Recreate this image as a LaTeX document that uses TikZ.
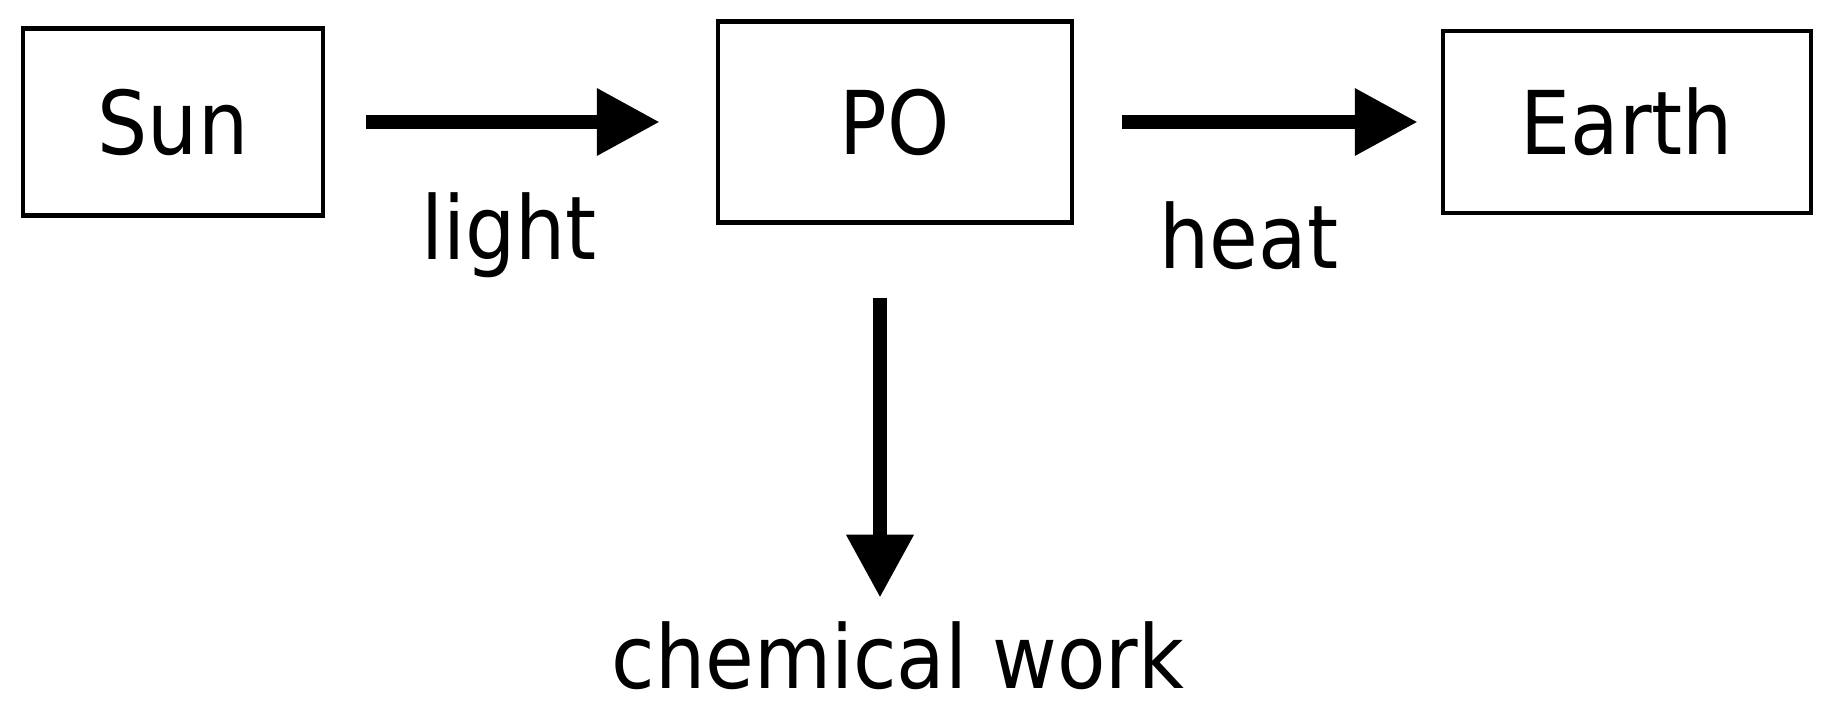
\documentclass[tikz,border=0pt]{standalone}
\usepackage{fontspec}
\setmainfont{DejaVu Sans Condensed}
\usepackage{tikz}
\usetikzlibrary{arrows.meta,positioning}
\tikzstyle{box} = [rectangle, draw, line width=2.2pt, inner sep=0pt]
\tikzstyle{flow} = [draw, line width=7pt,
    -{Triangle[length=31pt,width=34pt,line width=0pt]}]
\tikzstyle{tag} = [inner sep=0pt, anchor=base]

\begin{document}
\begin{tikzpicture}[x=0.5pt, y=-0.5pt]
\tikzstyle{every node}=[font=\fontsize{44}{48}\selectfont]
    \useasboundingbox (0,0) rectangle (1833,713);
    % boxes
    \node [box, minimum width=150pt, minimum height=93.5pt] (sun) at (173,122) {Sun};
    \node [box, minimum width=177pt, minimum height=100.5pt, right of=sun, node distance=361pt] (po) {PO};
    \node [box, minimum width=184pt, minimum height=91pt, right of=po, node distance=366pt] (earth) {Earth};
    % labels
    \node [tag] (light) at (509,259) {light};
    \node [tag] (heat) at (1249,268) {heat};
    \node [tag] (work) at (898,688) {chemical work};
    % arrows
    \coordinate (drop) at (880,0);
    \path [flow, shorten <=36.5pt, shorten >=12pt] (po.south -| drop) -- (work.north -| drop);
    \path [flow, shorten <=20.5pt, shorten >=28.5pt] (sun) -- (po);
    \path [flow, shorten <=24pt, shorten >=12pt] (po) -- (earth);
\end{tikzpicture}
\end{document}
